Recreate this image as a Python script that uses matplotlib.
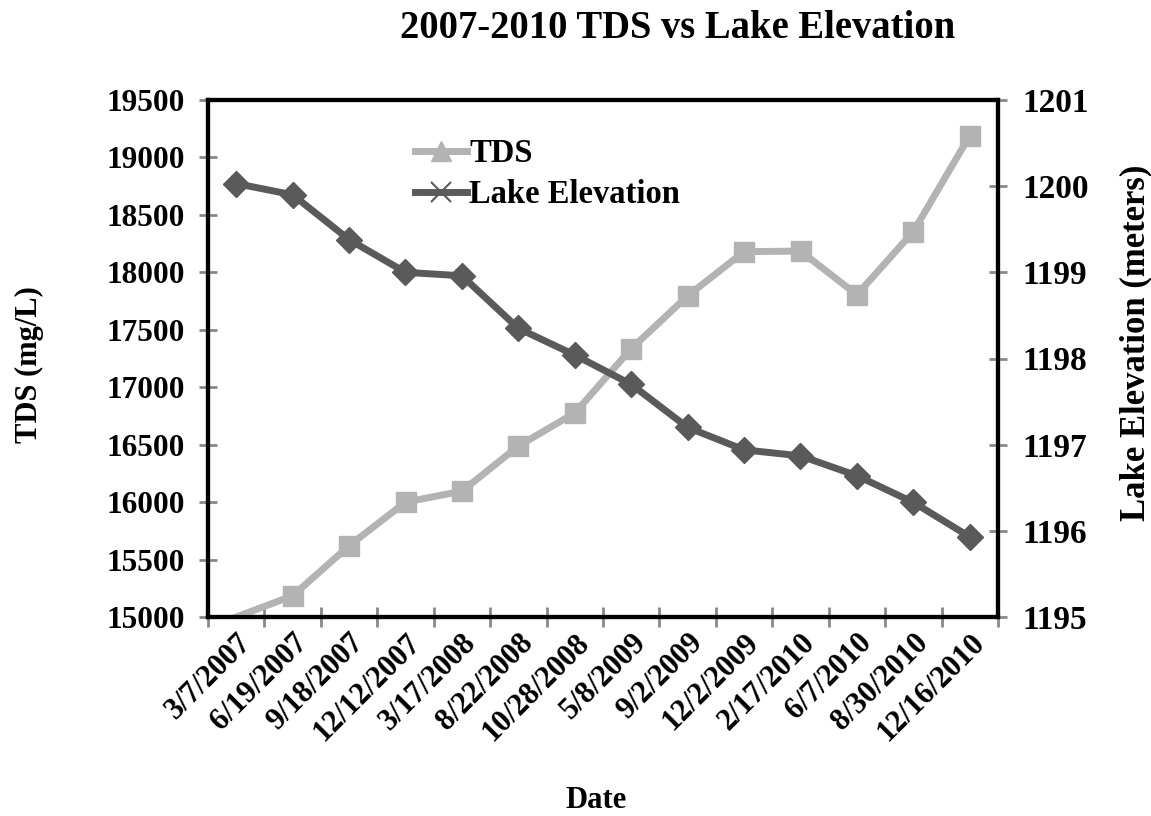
import matplotlib
matplotlib.use("Agg")
import matplotlib.pyplot as plt
from matplotlib.lines import Line2D
import numpy as np

dates = ["3/7/2007", "6/19/2007", "9/18/2007", "12/12/2007", "3/17/2008",
         "8/22/2008", "10/28/2008", "5/8/2009", "9/2/2009", "12/2/2009",
         "2/17/2010", "6/7/2010", "8/30/2010", "12/16/2010"]
tds = [15000, 15185, 15620, 16000, 16095, 16488, 16776, 17335,
       17795, 18180, 18185, 17805, 18355, 19190]
elevation = [1200.03, 1199.90, 1199.38, 1199.00, 1198.96, 1198.35, 1198.04,
             1197.70, 1197.20, 1196.94, 1196.87, 1196.64, 1196.33, 1195.93]

plt.rcParams['font.family'] = ['Liberation Serif', 'DejaVu Serif']
plt.rcParams['font.weight'] = 'bold'

fig = plt.figure(figsize=(11.51, 8.16), dpi=100)
ax = fig.add_axes([208/1151, 1-617/816, (998-208)/1151, (617-100)/816])
ax2 = ax.twinx()

x = np.arange(len(dates))
c_tds = '#b3b3b3'
c_el = '#5a5a5a'

ax.plot(x, tds, color=c_tds, lw=5, marker='s', markersize=14,
        markevery=list(range(1, len(x))), zorder=3)
ax2.plot(x, elevation, color=c_el, lw=5, marker='D', markersize=13.5, zorder=3)

ax.set_xlim(-0.5, len(x)-0.5)
ax.set_ylim(15000, 19500)
ax.set_yticks(np.arange(15000, 19501, 500))
ax2.set_ylim(1195, 1201)
ax2.set_yticks(np.arange(1195, 1202, 1))

ax.set_xticks(np.arange(-0.5, len(x)), minor=False)
ax.set_xticklabels([])
ax.set_xticks(x, minor=True)
ax.set_xticklabels(dates, minor=True, rotation=45, ha='right', va='top',
                   rotation_mode='anchor', fontsize=22, fontweight='bold')
ax.tick_params(axis='x', which='minor', length=0, pad=8)
ax.tick_params(axis='x', which='major', direction='inout', length=14,
               width=2, color='#888888')
ax.tick_params(axis='y', direction='inout', length=13, width=2,
               color='#888888', labelsize=22.5, pad=10)
ax2.tick_params(axis='y', direction='inout', length=13, width=2,
                color='#888888', labelsize=24, pad=11)
for lab in ax.get_yticklabels() + ax2.get_yticklabels():
    lab.set_fontweight('bold')

for a in (ax, ax2):
    for s in a.spines.values():
        s.set_color('black')
        s.set_linewidth(3)

ax.set_ylabel('TDS (mg/L)', fontsize=22, fontweight='bold')
ax.yaxis.set_label_coords(-(208-44)/790, (617-365)/517)
ax2.set_ylabel('Lake Elevation (meters)', fontsize=25, fontweight='bold')
ax2.yaxis.set_label_coords((1119-208)/790, (617-343)/517)
fig.text(596/1151, 1-800/816, 'Date', ha='center', va='center',
         fontsize=22, fontweight='bold')
fig.text(678/1151, 1-28/816, '2007-2010 TDS vs Lake Elevation', ha='center',
         va='center', fontsize=27.8, fontweight='bold')

handles = [Line2D([], [], color=c_tds, lw=5, marker='^', markersize=15),
           Line2D([], [], color=c_el, lw=5, marker='x', markersize=15,
                  markeredgewidth=1.5)]
leg = ax.legend(handles, ['TDS', 'Lake Elevation'], loc='upper left',
                bbox_to_anchor=((415-208)/790, (617-138)/517), frameon=False,
                fontsize=23.5, handlelength=1.6, handletextpad=0.06,
                labelspacing=0.32, borderaxespad=0, borderpad=0)
for t in leg.get_texts():
    t.set_fontweight('bold')

fig.savefig('out.png', dpi=100)
